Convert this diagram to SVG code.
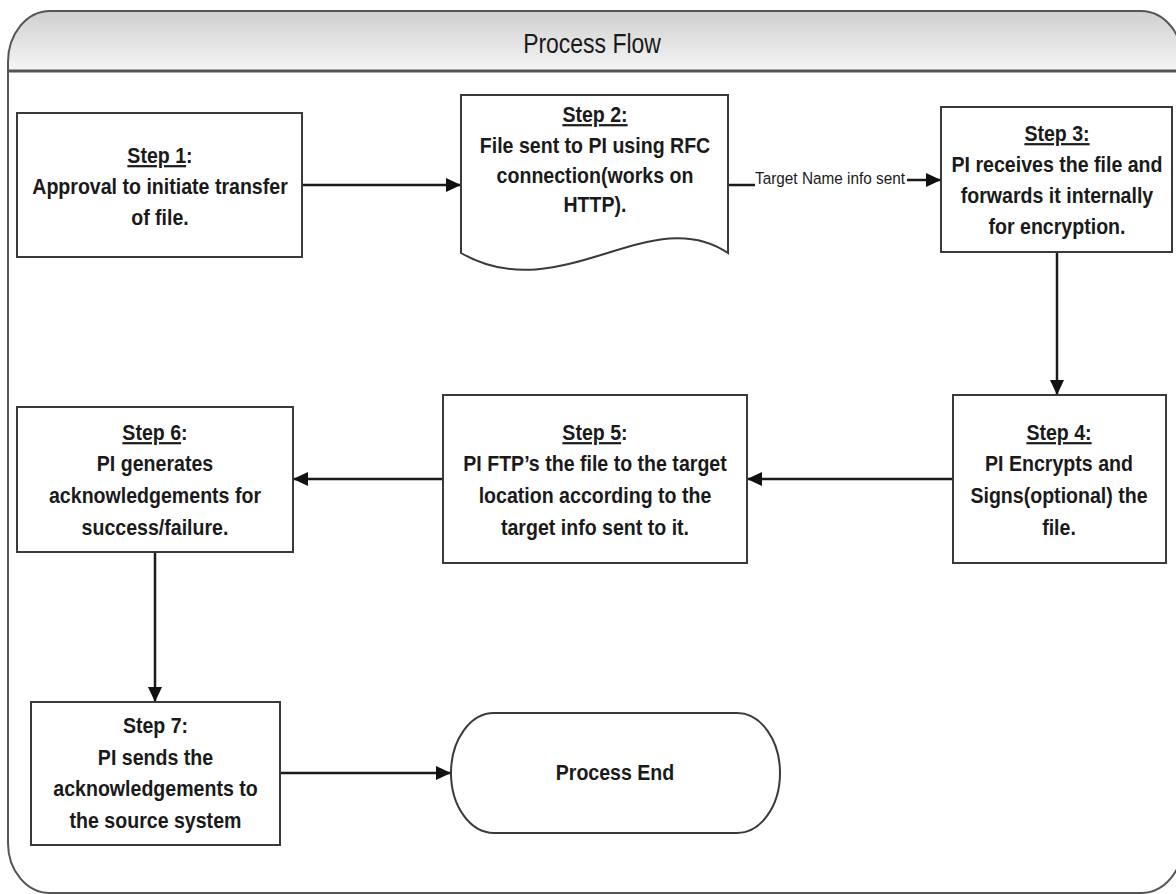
<svg xmlns="http://www.w3.org/2000/svg" width="1176" height="894" viewBox="0 0 1176 894">
<style>
.box{fill:#fff;stroke:#3a3a3a;stroke-width:2}
.t{font-family:"Liberation Sans",Arial,sans-serif;font-weight:bold;font-size:22px;fill:#1a1a1a;text-anchor:middle}
.u{text-decoration:underline}
.lbl{font-family:"Liberation Sans",Arial,sans-serif;font-size:16.5px;fill:#1a1a1a}
.title{font-family:"Liberation Sans",Arial,sans-serif;font-size:27px;fill:#1a1a1a;text-anchor:middle}
.c{fill:none;stroke:#1a1a1a;stroke-width:2.5}
</style>
<defs>
<linearGradient id="hdr" x1="0" y1="0" x2="0" y2="1">
<stop offset="0" stop-color="#cfcfcf"/>
<stop offset="1" stop-color="#f6f6f6"/>
</linearGradient>
<marker id="ah" markerUnits="userSpaceOnUse" markerWidth="16" markerHeight="15" refX="15" refY="7" orient="auto">
<path d="M0,0 L15,7 L0,14 Z" fill="#111"/>
</marker>
</defs>
<rect width="1176" height="894" fill="#fff"/>
<g id="frame">
<path d="M8,71 V62 A42,51 0 0 1 50,11 H1141 A42,51 0 0 1 1183,62 V71 Z" fill="url(#hdr)"/>
<path d="M8,843 V62 A42,51 0 0 1 50,11 H1141 A42,51 0 0 1 1183,62 V843 A42,50 0 0 1 1141,893 H50 A42,50 0 0 1 8,843 Z" fill="none" stroke="#555" stroke-width="2"/>
<line x1="8" y1="71" x2="1183" y2="71" stroke="#555" stroke-width="3"/>
<g transform="translate(592,0) scale(0.85,1)"><text class="title" x="0" y="53">Process Flow</text></g>
</g>
<g id="connectors">
<line class="c" x1="302" y1="185" x2="461" y2="185" marker-end="url(#ah)"/>
<line class="c" x1="728" y1="185" x2="755" y2="185"/>
<line class="c" x1="907" y1="180" x2="941" y2="180" marker-end="url(#ah)"/>
<g transform="translate(755,0) scale(0.93,1)"><text class="lbl" x="0" y="184">Target Name info sent</text></g>
<line class="c" x1="1057" y1="252" x2="1057" y2="395" marker-end="url(#ah)"/>
<line class="c" x1="953" y1="479" x2="747" y2="479" marker-end="url(#ah)"/>
<line class="c" x1="443" y1="479" x2="293" y2="479" marker-end="url(#ah)"/>
<line class="c" x1="155" y1="552" x2="155" y2="702" marker-end="url(#ah)"/>
<line class="c" x1="280" y1="773" x2="451" y2="773" marker-end="url(#ah)"/>
</g>
<g id="step1">
<rect class="box" x="17" y="113" width="285" height="144"/>
<g transform="translate(160,0) scale(0.89,1)">
<text class="t" x="0" y="163"><tspan class="u">Step 1</tspan>:</text>
<text class="t" x="0" y="194">Approval to initiate transfer</text>
<text class="t" x="0" y="225">of file.</text>
</g>
</g>
<g id="step2">
<path class="box" d="M461,95 H728 V253 C650,200 560,310 461,253 Z"/>
<g transform="translate(595,0) scale(0.89,1)">
<text class="t" x="0" y="122"><tspan class="u">Step 2:</tspan></text>
<text class="t" x="0" y="153">File sent to PI using RFC</text>
<text class="t" x="0" y="183">connection(works on</text>
<text class="t" x="0" y="212">HTTP).</text>
</g>
</g>
<g id="step3">
<rect class="box" x="941" y="107" width="231" height="145"/>
<g transform="translate(1057,0) scale(0.89,1)">
<text class="t" x="0" y="141"><tspan class="u">Step 3:</tspan></text>
<text class="t" x="0" y="172">PI receives the file and</text>
<text class="t" x="0" y="203">forwards it internally</text>
<text class="t" x="0" y="234">for encryption.</text>
</g>
</g>
<g id="step4">
<rect class="box" x="953" y="395" width="213" height="168"/>
<g transform="translate(1059,0) scale(0.89,1)">
<text class="t" x="0" y="440"><tspan class="u">Step 4:</tspan></text>
<text class="t" x="0" y="471">PI Encrypts and</text>
<text class="t" x="0" y="503">Signs(optional) the</text>
<text class="t" x="0" y="535">file.</text>
</g>
</g>
<g id="step5">
<rect class="box" x="443" y="395" width="304" height="168"/>
<g transform="translate(595,0) scale(0.89,1)">
<text class="t" x="0" y="440"><tspan class="u">Step 5</tspan>:</text>
<text class="t" x="0" y="471">PI FTP’s the file to the target</text>
<text class="t" x="0" y="503">location according to the</text>
<text class="t" x="0" y="535">target info sent to it.</text>
</g>
</g>
<g id="step6">
<rect class="box" x="17" y="407" width="276" height="145"/>
<g transform="translate(155,0) scale(0.89,1)">
<text class="t" x="0" y="440"><tspan class="u">Step 6</tspan>:</text>
<text class="t" x="0" y="471">PI generates</text>
<text class="t" x="0" y="503">acknowledgements for</text>
<text class="t" x="0" y="535">success/failure.</text>
</g>
</g>
<g id="step7">
<rect class="box" x="31" y="702" width="249" height="143"/>
<g transform="translate(155.5,0) scale(0.89,1)">
<text class="t" x="0" y="733">Step 7:</text>
<text class="t" x="0" y="765">PI sends the</text>
<text class="t" x="0" y="796">acknowledgements to</text>
<text class="t" x="0" y="828">the source system</text>
</g>
</g>
<g id="end">
<path class="box" d="M494,713 H737 A43,60 0 0 1 737,833 H494 A43,60 0 0 1 494,713 Z"/>
<g transform="translate(615,0) scale(0.89,1)">
<text class="t" x="0" y="780">Process End</text>
</g>
</g>
</svg>
